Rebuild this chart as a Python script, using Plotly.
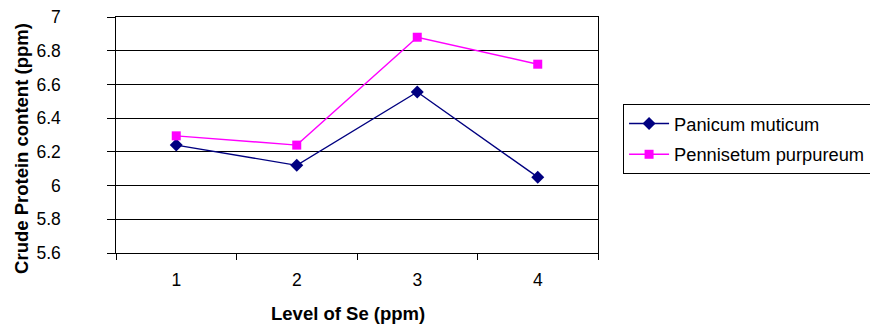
import plotly.graph_objects as go

levels = ["1", "2", "3", "4"]
panicum = [6.24, 6.12, 6.555, 6.05]
pennisetum = [6.295, 6.24, 6.88, 6.72]
y_ticks = [5.6, 5.8, 6.0, 6.2, 6.4, 6.6, 6.8, 7.0]
y_tick_text = ["5.6", "5.8", "6", "6.2", "6.4", "6.6", "6.8", "7"]
x_title = "Level of Se (ppm)"
y_title = "Crude Protein content (ppm)"

font = "Liberation Sans, Arial, sans-serif"

fig = go.Figure()
fig.add_trace(go.Scatter(
    x=levels, y=panicum, name="Panicum muticum", mode="lines+markers",
    line=dict(color="#000080", width=1.4),
    marker=dict(symbol="diamond", size=10, color="#000080"),
    legendgroup="a",
))
fig.add_trace(go.Scatter(
    x=levels, y=pennisetum, name="Pennisetum purpureum", mode="lines+markers",
    line=dict(color="#FF00FF", width=1.4),
    marker=dict(symbol="square", size=9, color="#FF00FF"),
    legendgroup="b",
))

fig.add_annotation(
    text="<b>" + x_title + "</b>", xref="paper", yref="paper",
    x=0.481, y=-0.2566, xanchor="center", yanchor="middle",
    showarrow=False, font=dict(family=font, size=18.5, color="black"),
)
fig.add_annotation(
    text="<b>" + y_title + "</b>", xref="paper", yref="paper",
    x=-0.195, y=0.441, xanchor="center", yanchor="middle", textangle=-90,
    showarrow=False, font=dict(family=font, size=18.5, color="black"),
)

fig.update_layout(
    width=870, height=327,
    margin=dict(l=116, r=272, t=17, b=74, autoexpand=False),
    paper_bgcolor="white", plot_bgcolor="white",
    font=dict(family=font, size=17.5, color="black"),
    showlegend=True,
    legend=dict(
        x=1.052, y=0.631, xanchor="left", yanchor="top",
        bordercolor="black", borderwidth=1, bgcolor="white",
        font=dict(family=font, size=18.3, color="black"),
        traceorder="grouped", tracegroupgap=4, itemwidth=40,
    ),
    xaxis=dict(
        type="category", range=[-0.5, 3.5], tickson="boundaries",
        ticks="outside", ticklen=6,
        tickcolor="black", showline=True, linecolor="black", linewidth=1,
        mirror=True, showgrid=False, zeroline=False,
        tickfont=dict(size=17.5), ticklabelstandoff=11,
    ),
    yaxis=dict(
        range=[5.6, 7.0], tickvals=y_ticks,
        ticktext=[t + "\u00a0\u00a0" for t in y_tick_text],
        ticks="outside", ticklen=8, tickcolor="black",
        showline=True, linecolor="black", linewidth=1, mirror=True,
        showgrid=True, gridcolor="black", gridwidth=1, zeroline=False,
        tickfont=dict(size=17.5), ticklabelstandoff=33,
    ),
)

fig.write_html("out.html")
